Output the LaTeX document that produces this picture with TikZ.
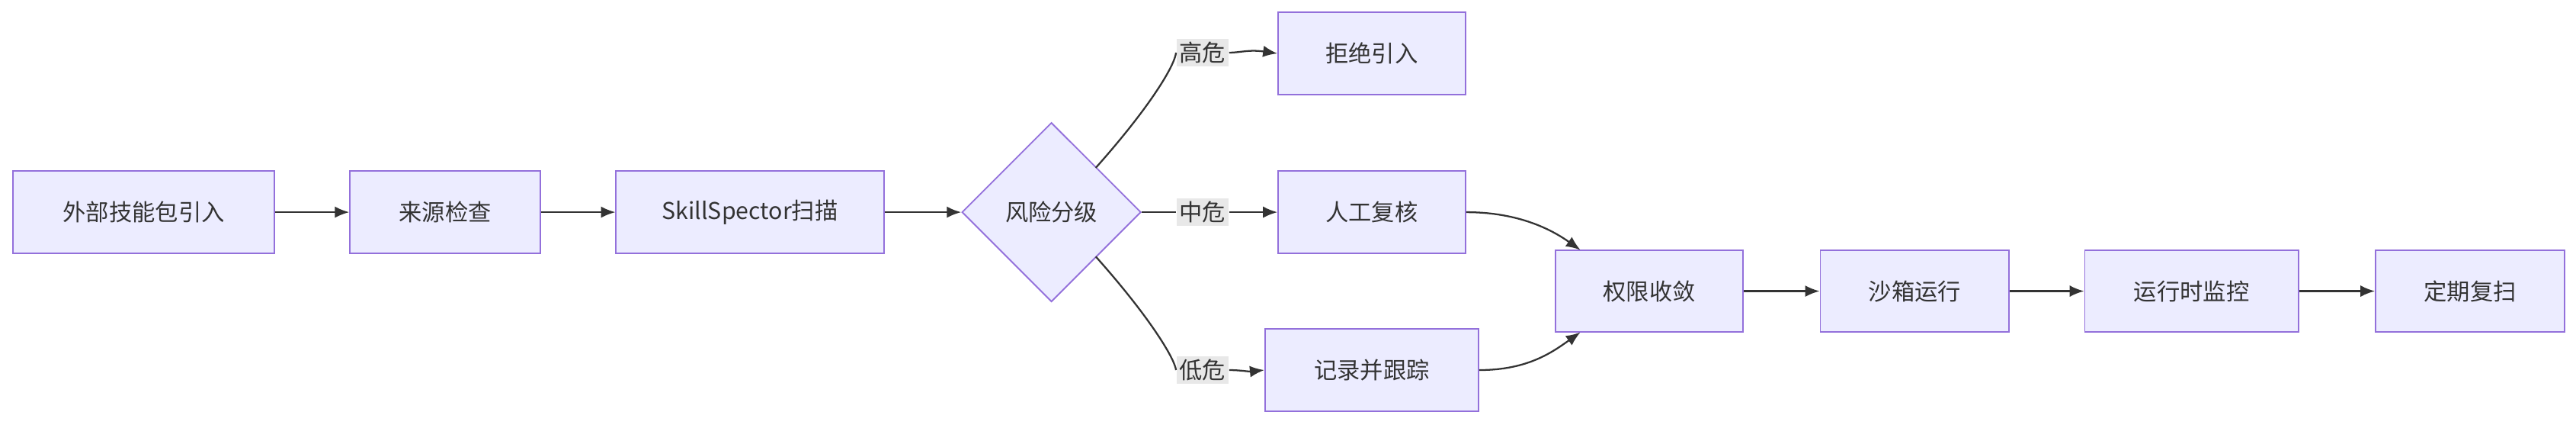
\documentclass[tikz,border=0pt]{standalone}
\usepackage{fontspec}
\setmainfont{Noto Sans CJK SC}
\usetikzlibrary{shapes.geometric,arrows.meta}
\definecolor{boxfill}{HTML}{ECECFF}
\definecolor{boxline}{HTML}{9370DB}
\definecolor{txt}{HTML}{333333}
\definecolor{lblbg}{HTML}{E8E8E8}

\begin{document}
\begin{tikzpicture}[x=0.02cm, y=-0.02cm, font=\fontsize{8}{10}\selectfont, text=txt,
    box/.style={draw=boxline, fill=boxfill, line width=0.5pt, minimum height=1cm, inner sep=0pt},
    lbl/.style={fill=lblbg, inner sep=1pt},
    edge/.style={draw=txt, line width=0.6pt, -{Latex[length=5pt,width=4pt]}}]
    \useasboundingbox (0,0) rectangle (1568,258);
    % main chain
    \node[box, minimum width=3.18cm] (src) at (87.5,129) {外部技能包引入};
    \node[box, minimum width=2.32cm] (chk) at (271,129) {来源检查};
    \node[box, minimum width=3.26cm] (scan) at (456.5,129) {SkillSpector扫描};
    \node[diamond, aspect=1, draw=boxline, fill=boxfill, line width=0.5pt, inner sep=0pt, minimum size=2.18cm] (risk) at (640,129) {风险分级};
    % branches
    \node[box, minimum width=2.28cm] (rej) at (835,32.5) {拒绝引入};
    \node[box, minimum width=2.28cm] (rev) at (835,129) {人工复核};
    \node[box, minimum width=2.6cm] (log) at (835,225) {记录并跟踪};
    \node[lbl] (hi) at (732,32) {高危};
    \node[lbl] (mid) at (732,129) {中危};
    \node[lbl] (lo) at (732,225) {低危};
    % tail
    \node[box, minimum width=2.28cm] (perm) at (1004,177) {权限收敛};
    \node[box, minimum width=2.3cm] (box) at (1165.5,177) {沙箱运行};
    \node[box, minimum width=2.6cm] (mon) at (1334,177) {运行时监控};
    \node[box, minimum width=2.3cm] (rescan) at (1503.5,177) {定期复扫};

    \draw[edge] (src) -- (chk);
    \draw[edge] (chk) -- (scan);
    \draw[edge] (scan) -- (risk);
    \draw[draw=txt, line width=0.6pt] (667,102) .. controls (700,65) and (715,40) .. (hi.west);
    \draw[edge] (hi.east) .. controls (755,32) and (760,30) .. (rej.west);
    \draw[draw=txt, line width=0.6pt] (risk.east) -- (mid.west);
    \draw[edge] (mid) -- (rev);
    \draw[draw=txt, line width=0.6pt] (667,156) .. controls (700,193) and (715,218) .. (lo.west);
    \draw[edge] (lo.east) .. controls (755,225) and (760,226) .. (log.west);
    \draw[edge] (rev.east) .. controls (925,129) and (945,140) .. (962,152);
    \draw[edge] (log.east) .. controls (930,225) and (945,214) .. (962,202);
    \draw[edge] (perm) -- (box);
    \draw[edge] (box) -- (mon);
    \draw[edge] (mon) -- (rescan);
\end{tikzpicture}
\end{document}
